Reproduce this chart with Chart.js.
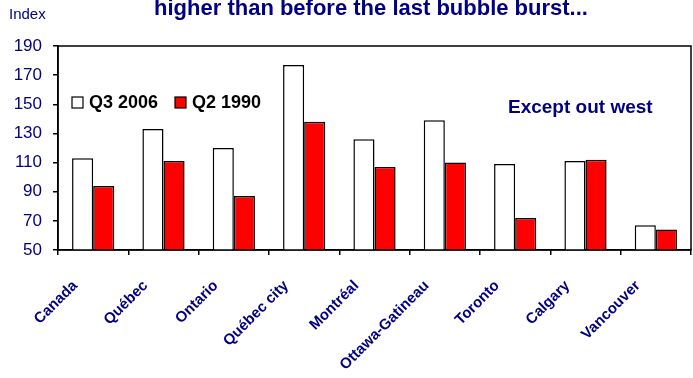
<!DOCTYPE html>
<html>
<head>
<meta charset="utf-8">
<script src="https://cdn.jsdelivr.net/npm/chart.js@4/dist/chart.umd.min.js"></script>
<style>
  html, body { margin: 0; padding: 0; background: #fff; }
  #wrap { width: 693px; height: 378px; position: relative; }
</style>
</head>
<body>
<div id="wrap"><canvas id="chart"></canvas></div>
<script>
const NAVY = '#000080';
const FONT = 'Arial, "Liberation Sans", sans-serif';

// categories and values
const categories = ['Canada', 'Québec', 'Ontario', 'Québec city', 'Montréal', 'Ottawa-Gatineau', 'Toronto', 'Calgary', 'Vancouver'];
const q3_2006 = [113, 133, 120, 177, 126, 139, 109, 111, 67];
const q2_1990 = [94, 111, 87, 138, 107, 110, 72, 112, 64];
const yTicks = [50, 70, 90, 110, 130, 150, 170, 190];

// frame, title, note and legend
const decor = {
  id: 'decor',
  afterDraw(chart) {
    const { ctx, chartArea: a } = chart;
    ctx.save();
    ctx.strokeStyle = '#000';
    ctx.lineWidth = 1.5;
    ctx.strokeRect(a.left, a.top, a.right - a.left, a.bottom - a.top);

    ctx.fillStyle = NAVY;
    ctx.textBaseline = 'alphabetic';
    ctx.font = 'bold 22px ' + FONT;
    ctx.textAlign = 'center';
    ctx.fillText('higher than before the last bubble burst...', 371, 15);

    ctx.font = '15px ' + FONT;
    ctx.textAlign = 'left';
    ctx.fillText('Index', 9, 19);

    ctx.font = 'bold 19px ' + FONT;
    ctx.textBaseline = 'middle';
    ctx.fillText('Except out west', 508, 108);

    // legend
    let x = 72;
    chart.data.datasets.forEach(ds => {
      ctx.fillStyle = ds.backgroundColor;
      ctx.fillRect(x, 97, 11, 11);
      ctx.strokeStyle = '#000';
      ctx.lineWidth = 1.2;
      ctx.strokeRect(x, 97, 11, 11);
      ctx.fillStyle = '#000';
      ctx.font = 'bold 18px ' + FONT;
      ctx.fillText(ds.label, x + 17, 103);
      x += 103;
    });
    ctx.restore();
  }
};

new Chart(document.getElementById('chart'), {
  type: 'bar',
  data: {
    labels: categories,
    datasets: [
      {
        label: 'Q3 2006',
        data: q3_2006,
        backgroundColor: '#ffffff',
        borderColor: '#000',
        borderWidth: 1.5,
        categoryPercentage: 0.6,
        barPercentage: 1.0,
      },
      {
        label: 'Q2 1990',
        data: q2_1990,
        backgroundColor: '#ff0000',
        borderColor: '#000',
        borderWidth: 1.5,
        categoryPercentage: 0.6,
        barPercentage: 1.0,
      },
    ],
  },
  options: {
    responsive: true,
    maintainAspectRatio: false,
    animation: false,
    layout: { padding: { top: 46, right: 2, left: 0, bottom: 0 } },
    plugins: { legend: { display: false }, tooltip: { enabled: false } },
    scales: {
      x: {
        afterFit: s => { s.height = 128; },
        grid: { drawOnChartArea: false, color: '#000', lineWidth: 1.5, tickLength: 5, offset: true },
        border: { color: '#000', width: 1.5 },
        ticks: {
          color: NAVY,
          font: { family: FONT, size: 15, weight: 'bold' },
          minRotation: 45, maxRotation: 45,
          autoSkip: false,
          padding: 22,
          labelOffset: -18,
        },
      },
      y: {
        min: 50, max: 190,
        afterFit: s => { s.width = 58; },
        afterBuildTicks: s => { s.ticks = yTicks.map(v => ({ value: v })); },
        grid: { drawOnChartArea: false, color: '#000', lineWidth: 1.5, tickLength: 5 },
        border: { color: '#000', width: 1.5 },
        ticks: {
          color: NAVY,
          font: { family: FONT, size: 17 },
          padding: 11,
        },
      },
    },
  },
  plugins: [decor],
});
</script>
</body>
</html>
